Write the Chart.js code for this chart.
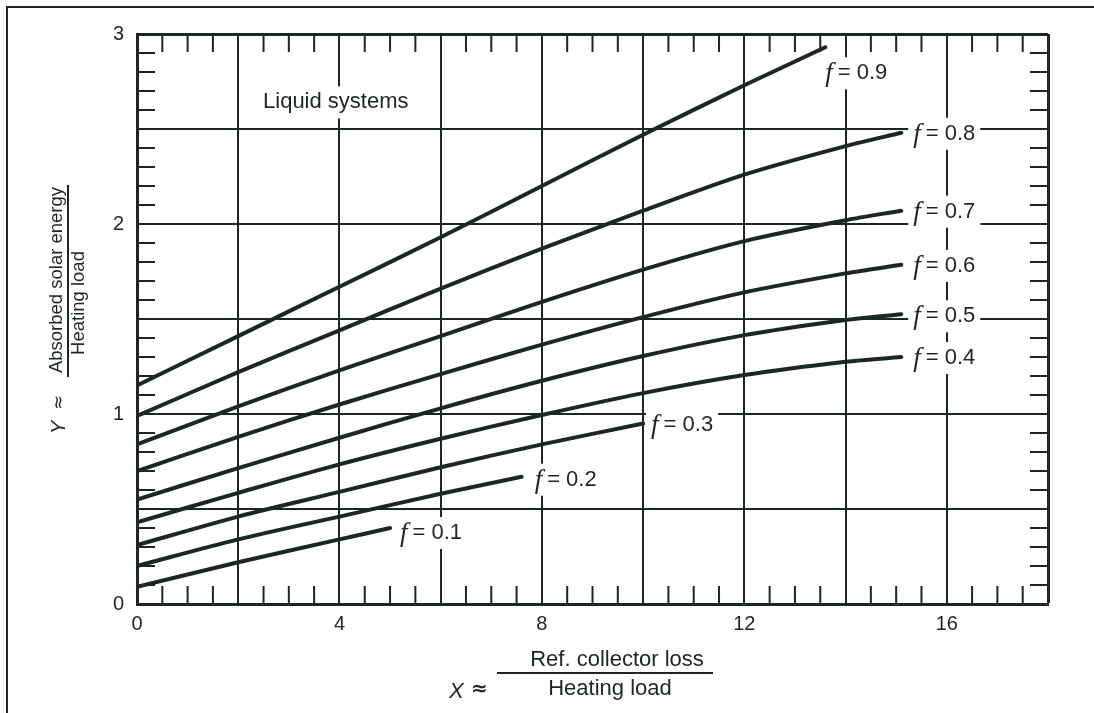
<!DOCTYPE html>
<html>
<head>
<meta charset="utf-8">
<script src="https://cdn.jsdelivr.net/npm/chart.js@4.4.0/dist/chart.umd.min.js"></script>
<style>
  html, body { margin: 0; padding: 0; background: #fff; }
  #wrap { position: relative; width: 1094px; height: 713px; overflow: hidden; }
  #frame { position: absolute; left: 6px; top: 6px; width: 1200px; height: 800px;
           border-left: 2px solid #1e2624; border-top: 2px solid #1e2624; }
  canvas { position: absolute; left: 0; top: 0; }
</style>
</head>
<body>
<div id="wrap">
  <div id="frame"></div>
  <canvas id="chart" width="1094" height="713"></canvas>
</div>
<script>
const ink = '#1e2624';

// f-chart curves
const fNames = ['0.9', '0.8', '0.7', '0.6', '0.5', '0.4', '0.3', '0.2', '0.1'];

const x09 = [0, 2, 4, 6, 8, 10, 12, 13.6];
const y09 = [1.15, 1.41, 1.67, 1.93, 2.20, 2.47, 2.73, 2.93];

const xLong = [0, 2, 4, 6, 8, 10, 12, 14, 15.1];
const y08 = [0.99, 1.22, 1.44, 1.66, 1.87, 2.07, 2.26, 2.41, 2.48];
const y07 = [0.84, 1.04, 1.23, 1.41, 1.59, 1.76, 1.91, 2.02, 2.07];
const y06 = [0.70, 0.88, 1.05, 1.21, 1.365, 1.51, 1.64, 1.74, 1.785];
const y05 = [0.55, 0.715, 0.875, 1.03, 1.175, 1.305, 1.415, 1.495, 1.525];
const y04 = [0.43, 0.585, 0.735, 0.87, 0.995, 1.11, 1.205, 1.275, 1.30];

const x03 = [0, 2, 4, 6, 8, 10];
const y03 = [0.31, 0.46, 0.59, 0.72, 0.84, 0.95];

const x02 = [0, 2, 4, 6, 7.6];
const y02 = [0.20, 0.34, 0.46, 0.58, 0.67];

const x01 = [0, 2, 4, 5];
const y01 = [0.09, 0.22, 0.34, 0.40];

const xTickLabels = [0, 4, 8, 12, 16];
const yTickLabels = [0, 1, 2, 3];

const curveX = [x09, xLong, xLong, xLong, xLong, xLong, x03, x02, x01];
const curveY = [y09, y08, y07, y06, y05, y04, y03, y02, y01];

// label placement relative to each curve's last point (pixels)
const labelOffsets = [[0, 26], [12, 1], [12, 1], [12, 1], [12, 2], [12, 1], [8, 1], [13, 3], [10, 5]];

const datasets = fNames.map((name, i) => ({
    label: 'f = ' + name,
    data: curveX[i].map((x, j) => ({ x, y: curveY[i][j] })),
    borderColor: ink,
    borderWidth: 4,
    borderCapStyle: 'round',
    pointRadius: 0,
    fill: false,
    tension: 0.3
}));

const minorTicks = {
    id: 'minorTicks',
    beforeDatasetsDraw(chart) {
        const { ctx, chartArea: a, scales: { x, y } } = chart;
        const len = 18;
        ctx.save();
        ctx.strokeStyle = ink;
        ctx.lineWidth = 2;
        ctx.beginPath();
        for (let v = 0.5; v < 18; v += 0.5) {
            if (Math.abs(v / 2 - Math.round(v / 2)) < 1e-6) continue;
            const p = x.getPixelForValue(v);
            ctx.moveTo(p, a.bottom); ctx.lineTo(p, a.bottom - len);
            ctx.moveTo(p, a.top); ctx.lineTo(p, a.top + len);
        }
        for (let k = 1; k < 30; k++) {
            if (k % 5 === 0) continue;
            const p = y.getPixelForValue(k / 10);
            ctx.moveTo(a.left, p); ctx.lineTo(a.left + len, p);
            ctx.moveTo(a.right, p); ctx.lineTo(a.right - len, p);
        }
        ctx.stroke();
        ctx.restore();
    }
};

const curveLabels = {
    id: 'curveLabels',
    afterDatasetsDraw(chart) {
        const { ctx, scales: { x, y } } = chart;
        ctx.save();
        ctx.textBaseline = 'middle';
        chart.data.datasets.forEach((ds, i) => {
            const meta = chart.getDatasetMeta(i);
            const pt = meta.data[meta.data.length - 1];
            const lx = pt.x + labelOffsets[i][0];
            const ly = pt.y + labelOffsets[i][1];
            const rest = '= ' + fNames[i];
            ctx.font = 'italic 27px "Liberation Serif"';
            const fw = ctx.measureText('f').width;
            ctx.font = '22px "Liberation Sans"';
            const rw = ctx.measureText(rest).width;
            const w = fw + 5 + rw;
            ctx.fillStyle = '#fff';
            ctx.fillRect(lx - 5, ly - 16, w + 10, 32);
            ctx.fillStyle = ink;
            ctx.font = 'italic 27px "Liberation Serif"';
            ctx.fillText('f', lx, ly + 1);
            ctx.font = '22px "Liberation Sans"';
            ctx.fillText(rest, lx + fw + 5, ly);
        });

        // "Liquid systems" note
        ctx.font = '22px "Liberation Sans"';
        const nx = x.getPixelForValue(2.49);
        const ny = y.getPixelForValue(2.64);
        const nw = ctx.measureText('Liquid systems').width;
        ctx.fillStyle = '#fff';
        ctx.fillRect(nx - 4, ny - 16, nw + 8, 32);
        ctx.fillStyle = ink;
        ctx.fillText('Liquid systems', nx, ny);
        ctx.restore();
    }
};

const axisTitles = {
    id: 'axisTitles',
    afterDraw(chart) {
        const { ctx } = chart;
        ctx.save();
        ctx.fillStyle = ink;
        ctx.strokeStyle = ink;
        ctx.lineWidth = 2;
        ctx.textBaseline = 'middle';

        // X title
        ctx.font = 'italic 22px "Liberation Sans"';
        ctx.textAlign = 'left';
        ctx.fillText('X', 449, 692);
        ctx.font = 'bold 20px "DejaVu Sans"';
        ctx.fillText('\u2248', 471, 690);
        ctx.beginPath(); ctx.moveTo(497, 673); ctx.lineTo(713, 673); ctx.stroke();
        ctx.font = '22px "Liberation Sans"';
        ctx.textAlign = 'center';
        ctx.fillText('Ref. collector loss', 617, 660);
        ctx.fillText('Heating load', 610, 689);

        // Y title, rotated
        ctx.translate(68, 310);
        ctx.rotate(-Math.PI / 2);
        ctx.font = 'italic 20px "Liberation Sans"';
        ctx.textAlign = 'left';
        ctx.fillText('Y', -124, -9);
        ctx.font = '18px "DejaVu Sans"';
        ctx.fillText('\u2248', -100, -9);
        ctx.beginPath(); ctx.moveTo(-67, 0); ctx.lineTo(125, 0); ctx.stroke();
        ctx.font = '18.5px "Liberation Sans"';
        ctx.textAlign = 'center';
        ctx.fillText('Absorbed solar energy', 30, -11);
        ctx.fillText('Heating load', 7, 11);
        ctx.restore();
    }
};

new Chart(document.getElementById('chart'), {
    type: 'line',
    data: { datasets },
    options: {
        responsive: false,
        animation: false,
        devicePixelRatio: 1,
        layout: { padding: { top: 34, right: 46, left: 0, bottom: 0 } },
        plugins: { legend: { display: false }, tooltip: { enabled: false } },
        scales: {
            x: {
                type: 'linear',
                min: 0,
                max: 18,
                ticks: {
                    stepSize: 2,
                    autoSkip: false,
                    maxRotation: 0,
                    padding: 8,
                    color: ink,
                    font: { family: 'Liberation Sans', size: 20 },
                    callback: v => xTickLabels.includes(v) ? String(v) : ''
                },
                grid: {
                    color: ink,
                    lineWidth: c => (c.tick && c.tick.value === 18) ? 3 : 2,
                    drawTicks: false
                },
                border: { color: ink, width: 3 },
                afterFit: s => { s.height = 109; }
            },
            y: {
                type: 'linear',
                min: 0,
                max: 3,
                ticks: {
                    stepSize: 0.5,
                    autoSkip: false,
                    padding: 13,
                    color: ink,
                    font: { family: 'Liberation Sans', size: 20 },
                    callback: v => yTickLabels.includes(v) ? String(v) : ''
                },
                grid: {
                    color: ink,
                    lineWidth: c => (c.tick && c.tick.value === 3) ? 3 : 2,
                    drawTicks: false
                },
                border: { color: ink, width: 3 },
                afterFit: s => { s.width = 137; }
            }
        }
    },
    plugins: [minorTicks, curveLabels, axisTitles]
});
</script>
</body>
</html>
